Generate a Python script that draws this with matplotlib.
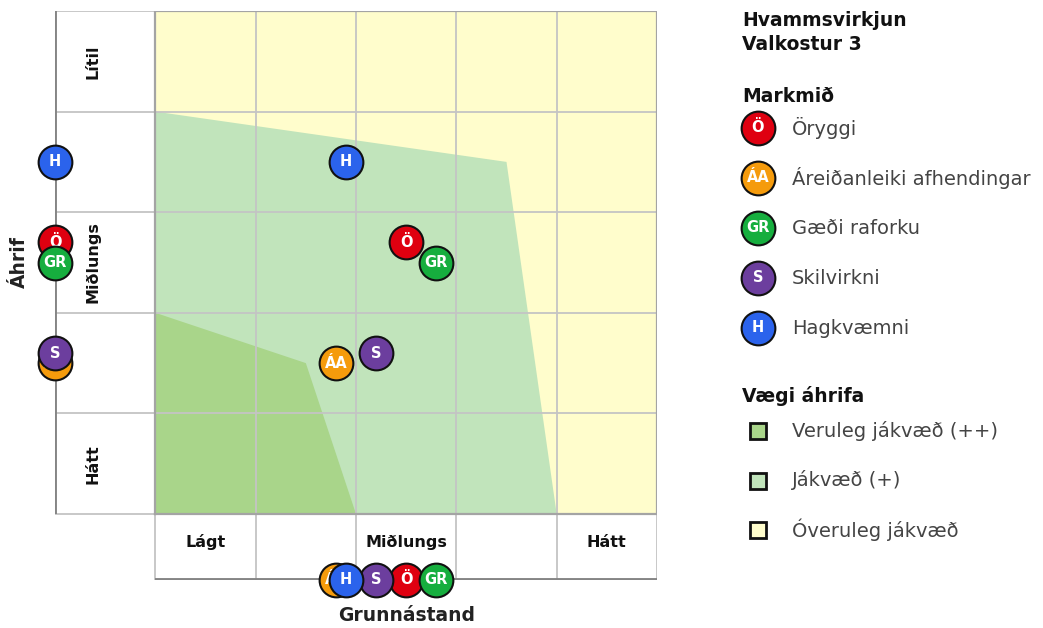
import matplotlib.pyplot as plt
from matplotlib.patches import Polygon, Rectangle

# Markmið (objectives) and their positions
objectives = ["Öryggi", "Áreiðanleiki afhendingar", "Gæði raforku", "Skilvirkni", "Hagkvæmni"]
codes = ["Ö", "ÁA", "GR", "S", "H"]
colors = ["#DF0010", "#F59B0C", "#16AE3E", "#6C3E9E", "#2B63EC"]
baseline = [2.5, 1.8, 2.8, 2.2, 1.9]   # Grunnástand
impact = [2.7, 1.5, 2.5, 1.6, 3.5]     # Áhrif

# Vægi áhrifa zones
zone_labels = ["Veruleg jákvæð (++)", "Jákvæð (+)", "Óveruleg jákvæð"]
zone_colors = ["#A9D58A", "#C1E4BB", "#FFFDCC"]
strong_x = [0, 1.5, 2, 0]
strong_y = [2, 1.5, 0, 0]
pos_x = [0, 3.5, 4, 0]
pos_y = [4, 3.5, 0, 0]

row_labels = ["Hátt", "Miðlungs", "Lítil"]
row_pos = [0.5, 2.5, 4.5]
col_labels = ["Lágt", "Miðlungs", "Hátt"]
col_pos = [0.5, 2.5, 4.5]

title_lines = ["Hvammsvirkjun", "Valkostur 3"]

plt.rcParams['font.family'] = ['DejaVu Sans']

W, H = 1043, 628
fig = plt.figure(figsize=(W / 100, H / 100), dpi=100)

# main axes: x -1..5 (left strip + 5 cols), y -0.656..5 (bottom strip + 5 rows)
ax = fig.add_axes([55 / W, 48 / H, 602 / W, 569 / H])
ax.set_xlim(-1, 5)
ax.set_ylim(-0.656, 5)
ax.axis('off')

# background zones
ax.add_patch(Rectangle((0, 0), 5, 5, facecolor=zone_colors[2], edgecolor='none', zorder=0))
ax.add_patch(Polygon(list(zip(pos_x, pos_y)), closed=True, facecolor=zone_colors[1],
                     edgecolor='none', zorder=1))
ax.add_patch(Polygon(list(zip(strong_x, strong_y)), closed=True, facecolor=zone_colors[0],
                     edgecolor='none', zorder=2))

# grid
grid_c = '#C4C4C4'
for i in range(6):
    ax.plot([-1, 5], [i, i], color=grid_c, lw=1.3, zorder=3, solid_capstyle='butt')
    ax.plot([i, i], [-0.656, 5], color=grid_c, lw=1.3, zorder=3, solid_capstyle='butt')
ax.plot([0, 5, 5, 0, 0], [0, 0, 5, 5, 0], color='#A4A4A4', lw=1.6, zorder=3)

# axis lines
ax.plot([-1, -1], [0, 5], color='#858585', lw=2.8, zorder=3, solid_capstyle='butt')
ax.plot([0, 5], [-0.656, -0.656], color='#858585', lw=2.8, zorder=3, solid_capstyle='butt')

for lab, y in zip(row_labels, row_pos):
    ax.text(-0.62, y, lab, rotation=90, ha='center', va='center', fontsize=11.5,
            fontweight='bold', color='#111111')
for lab, x in zip(col_labels, col_pos):
    ax.text(x, -0.28, lab, ha='center', va='center', fontsize=11.5,
            fontweight='bold', color='#111111')

ax.text(-1.35, 2.5, "Áhrif", rotation=90, ha='center', va='center', fontsize=13.5,
        fontweight='bold', color='#222222')
ax.text(2.5, -1.01, "Grunnástand", ha='center', va='center', fontsize=13.5,
        fontweight='bold', color='#222222')

# markers: in the plot, projected on left axis and bottom axis
z = 10
for code, col, bx, iy in zip(codes, colors, baseline, impact):
    for px, py in [(bx, iy), (-1, iy), (bx, -0.656)]:
        ax.scatter([px], [py], s=590, color=col, edgecolors='#111111', linewidths=1.5,
                   zorder=z, clip_on=False)
        ax.text(px, py, code, ha='center', va='center', fontsize=10.5, fontweight='bold',
                color='white', zorder=z + 0.5, clip_on=False)
    z += 1

# legend panel
lax = fig.add_axes([700 / W, 0, 343 / W, 1])
lax.set_xlim(700, 1043)
lax.set_ylim(H, 0)
lax.axis('off')

for i, t in enumerate(title_lines):
    lax.text(742, 20 + 25 * i, t, ha='left', va='center', fontsize=13.5,
             fontweight='bold', color='#111111')

lax.text(742, 97, "Markmið", ha='left', va='center', fontsize=13.5,
         fontweight='bold', color='#111111')
for i, (name, code, col) in enumerate(zip(objectives, codes, colors)):
    y = 128 + 50 * i
    lax.scatter([758], [y], s=590, color=col, edgecolors='#111111', linewidths=1.5)
    lax.text(758, y, code, ha='center', va='center', fontsize=10.5, fontweight='bold',
             color='white')
    lax.text(792, y, name, ha='left', va='center', fontsize=14, color='#444444')

lax.text(742, 396, "Vægi áhrifa", ha='left', va='center', fontsize=13.5,
         fontweight='bold', color='#111111')
for i, (name, col) in enumerate(zip(zone_labels, zone_colors)):
    y = 431 + 49.5 * i
    lax.add_patch(Rectangle((750, y - 8), 16, 16, facecolor=col, edgecolor='#111111', lw=2))
    lax.text(792, y, name, ha='left', va='center', fontsize=14, color='#444444')

fig.savefig('out.png', dpi=100, facecolor='white')
